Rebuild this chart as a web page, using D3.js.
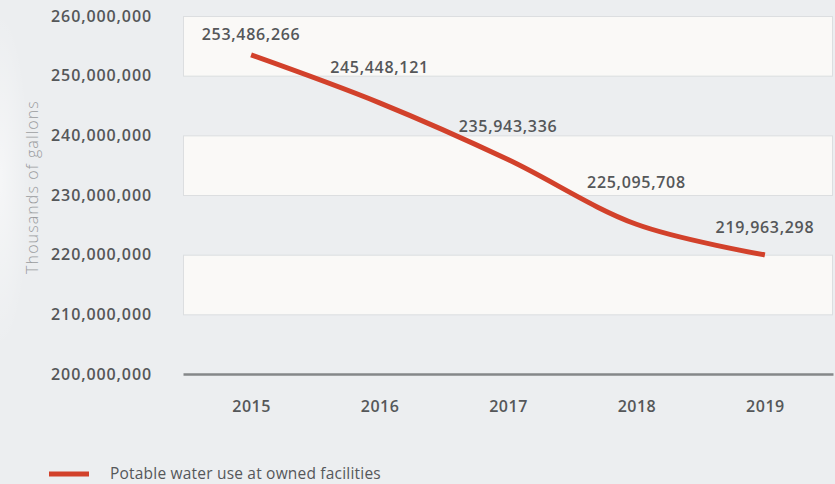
<!DOCTYPE html>
<html>
<head>
<meta charset="utf-8">
<script src="https://cdn.jsdelivr.net/npm/d3@7"></script>
<style>
  html, body { margin: 0; padding: 0; background: #eceef0; }
  svg { display: block; }
  .tick-label { font-family: "Open Sans", sans-serif; font-weight: 600; fill: #555759; }
</style>
</head>
<body>
<div id="chart"></div>
<script>
// data
const years = [`2015`, `2016`, `2017`, `2018`, `2019`];
const waterUse = [253486266, 245448121, 235943336, 225095708, 219963298];
const yTicks = [200000000, 210000000, 220000000, 230000000, 240000000, 250000000, 260000000];
const seriesName = `Potable water use at owned facilities`;
const yTitle = `Thousands of gallons`;

// label nudges above each point (layout only)
const labelLift = [15, 30, 28, 36, 22];

const width = 835;
const height = 484;
const margin = {top: 16, right: 2, bottom: 110, left: 183};
const red = `#d2412b`;

const svg = d3.select(`#chart`)
  .append(`svg`)
    .attr(`width`, width)
    .attr(`height`, height);

// soft background light on the left
const defs = svg.append(`defs`);
const glow = defs.append(`radialGradient`).attr(`id`, `glow`);
glow.append(`stop`).attr(`offset`, `0%`).attr(`stop-color`, `#ffffff`).attr(`stop-opacity`, 0.5);
glow.append(`stop`).attr(`offset`, `100%`).attr(`stop-color`, `#ffffff`).attr(`stop-opacity`, 0);
svg.append(`rect`)
  .attr(`width`, width).attr(`height`, height).attr(`fill`, `#eceef0`);
svg.append(`ellipse`)
  .attr(`cx`, 0).attr(`cy`, 180).attr(`rx`, 30).attr(`ry`, 170)
  .attr(`fill`, `url(#glow)`);

const x = d3.scalePoint()
  .domain(years)
  .range([margin.left, width - margin.right])
  .padding(0.53);

const y = d3.scaleLinear()
  .domain([d3.min(yTicks), d3.max(yTicks)])
  .range([height - margin.bottom, margin.top]);

// alternating white bands
const bandPairs = [];
const desc = yTicks.slice().reverse();
for (let i = 0; i + 1 < desc.length; i += 2) {
  bandPairs.push([desc[i], desc[i + 1]]);
}
svg.append(`g`)
  .selectAll(`rect`)
  .data(bandPairs)
  .enter().append(`rect`)
    .attr(`x`, margin.left + 0.5)
    .attr(`y`, d => y(d[0]) + 0.5)
    .attr(`width`, width - margin.right - margin.left - 1)
    .attr(`height`, d => y(d[1]) - y(d[0]))
    .attr(`fill`, `#faf9f7`)
    .attr(`stroke`, `#dcdee0`)
    .attr(`stroke-width`, 1);

// y axis labels
const yAxis = svg.append(`g`)
  .attr(`transform`, `translate(152,0)`)
  .call(d3.axisLeft(y).tickValues(yTicks).tickSize(0).tickPadding(0).tickFormat(d3.format(`,`)));
yAxis.select(`.domain`).remove();
yAxis.selectAll(`text`)
  .attr(`class`, `tick-label`)
  .style(`font-size`, `16px`)
  .style(`letter-spacing`, `0.9px`);

// x axis
const xAxis = svg.append(`g`)
  .attr(`transform`, `translate(0,${y(d3.min(yTicks))})`)
  .call(d3.axisBottom(x).tickSize(0).tickPadding(27));
xAxis.select(`.domain`)
  .attr(`stroke`, `#858789`)
  .attr(`stroke-width`, 2.5);
xAxis.selectAll(`text`)
  .attr(`class`, `tick-label`)
  .style(`font-size`, `16px`)
  .style(`letter-spacing`, `0.5px`);

// axis title
svg.append(`text`)
  .attr(`transform`, `translate(38,${(y(260000000) + y(200000000)) / 2 - 8}) rotate(-90)`)
  .attr(`text-anchor`, `middle`)
  .style(`font-family`, `"Open Sans", sans-serif`)
  .style(`font-weight`, 300)
  .style(`font-size`, `16px`)
  .style(`letter-spacing`, `1.1px`)
  .style(`fill`, `#9a9c9e`)
  .text(yTitle);

// line
const line = d3.line()
  .x((d, i) => x(years[i]))
  .y(d => y(d))
  .curve(d3.curveCatmullRom.alpha(0.5));

svg.append(`path`)
  .datum(waterUse)
  .attr(`fill`, `none`)
  .attr(`stroke`, red)
  .attr(`stroke-width`, 5)
  .attr(`d`, line);

// value labels
svg.append(`g`)
  .selectAll(`text`)
  .data(waterUse)
  .enter().append(`text`)
    .attr(`class`, `tick-label`)
    .attr(`x`, (d, i) => x(years[i]))
    .attr(`y`, (d, i) => y(d) - labelLift[i])
    .attr(`text-anchor`, `middle`)
    .style(`font-size`, `16px`)
    .style(`letter-spacing`, `0.7px`)
    .text(d => d3.format(`,`)(d));

// legend
const legend = svg.append(`g`).attr(`transform`, `translate(49,474)`);
legend.append(`line`)
  .attr(`x1`, 0).attr(`x2`, 40)
  .attr(`stroke`, red)
  .attr(`stroke-width`, 5);
legend.append(`text`)
  .attr(`x`, 61)
  .attr(`y`, 5)
  .style(`font-family`, `"Open Sans", sans-serif`)
  .style(`font-size`, `15.5px`)
  .style(`letter-spacing`, `0.2px`)
  .style(`fill`, `#55575a`)
  .text(seriesName);
</script>
</body>
</html>
